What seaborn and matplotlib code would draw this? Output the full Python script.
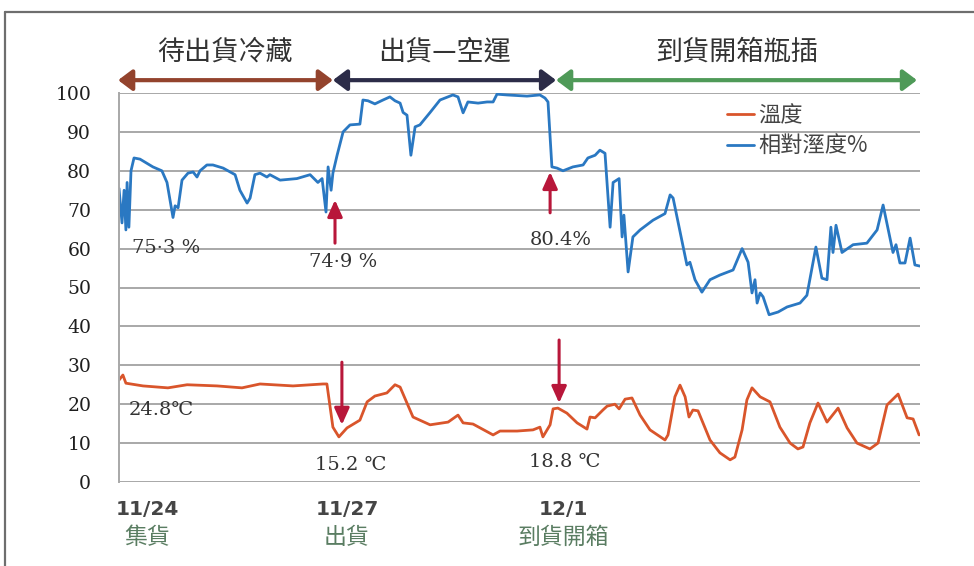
import matplotlib
matplotlib.use("Agg")
import matplotlib.pyplot as plt
from matplotlib.lines import Line2D
from matplotlib.transforms import blended_transform_factory
import seaborn as sns
import pandas as pd

# ---------------- data (time in hours from 11/24) ----------------
rh_hours = [0, 1.0, 1.7, 2.3, 2.7, 3.3, 4.0, 5.0, 7.0, 11.3, 14.3, 16.0, 18.0, 18.7, 19.7,
            21.0, 23.0, 24.7, 26.0, 27.0, 29.3, 31.3, 34.7, 38.7, 40.3, 42.7, 43.7, 45.3,
            47.0, 49.3, 50.3, 53.7, 59.3, 63.7, 66.3, 67.7, 69.0, 69.7, 70.7, 71.3, 72.7,
            74.7, 77.0, 80.3, 81.3, 83.0, 85.3, 88.0, 90.3, 92.0, 93.7, 94.7, 96.0, 97.3,
            98.7, 100.3, 103.7, 107.0, 111.3, 113.0, 114.7, 116.3, 119.7, 122.7, 124.7,
            126.0, 129.3, 136.0, 140.3, 142.0, 143.0, 144.3, 146.0, 148.0, 151.3, 154.7,
            156.3, 158.7, 160.3, 162.0, 163.7, 164.7, 166.7, 167.7, 168.3, 169.7, 171.3,
            173.7, 178.0, 182.0, 183.7, 184.7, 189.3, 190.3, 192.0, 194.3, 197.0, 200.3,
            204.7, 207.7, 209.7, 211.0, 212.0, 212.7, 213.7, 214.7, 216.7, 219.7, 222.7,
            227.0, 229.3, 232.3, 234.3, 236.0, 237.3, 238.0, 239.0, 241.0, 244.7, 249.3,
            252.7, 254.7, 258.0, 259.0, 260.3, 262.0, 263.7, 265.3, 267.0]
rh_values = [75.5, 66.6, 75.0, 64.8, 77.0, 65.5, 80.0, 83.3, 83.0, 81.0, 80.0, 77.0, 68.0,
             71.0, 70.5, 77.6, 79.4, 79.7, 78.4, 80.0, 81.5, 81.5, 80.7, 79.0, 75.0, 71.7,
             73.0, 79.0, 79.4, 78.4, 79.0, 77.6, 78.0, 79.0, 77.0, 78.0, 69.4, 81.0, 75.0,
             79.4, 84.0, 90.0, 91.8, 92.0, 98.2, 98.0, 97.2, 98.2, 99.0, 98.0, 97.4, 95.0,
             94.3, 84.0, 91.3, 91.8, 95.0, 98.2, 99.5, 99.0, 94.9, 97.7, 97.4, 97.7, 97.7,
             99.7, 99.5, 99.2, 99.5, 98.7, 97.7, 81.0, 80.7, 80.0, 81.0, 81.5, 83.3, 84.0,
             85.3, 84.5, 65.5, 77.0, 78.0, 63.0, 68.6, 54.0, 63.0, 64.8, 67.3, 69.0, 73.8,
             73.0, 55.8, 56.5, 52.0, 48.8, 52.0, 53.2, 54.5, 60.0, 56.5, 48.6, 52.0, 46.0,
             48.6, 47.6, 43.0, 43.7, 45.0, 46.0, 48.0, 60.4, 52.4, 52.0, 65.5, 59.0, 66.0,
             59.0, 61.0, 61.4, 64.8, 71.2, 59.0, 61.0, 56.3, 56.3, 62.7, 55.8, 55.5]

temp_hours = [0, 1.3, 2.3, 8.0, 16.3, 22.7, 32.7, 41.0, 47.0, 58.0, 68.0, 69.3, 71.3, 73.3,
              76.0, 80.3, 82.7, 85.3, 89.3, 92.0, 93.7, 98.0, 103.7, 109.7, 113.0, 114.7,
              118.0, 124.7, 127.0, 132.7, 138.0, 140.3, 141.3, 143.7, 144.7, 146.3, 149.3,
              152.7, 156.0, 157.0, 158.7, 161.3, 162.7, 165.3, 166.7, 168.7, 171.0, 173.7,
              177.0, 182.0, 183.0, 185.3, 187.0, 188.7, 190.0, 191.3, 193.0, 197.0, 200.3,
              203.7, 205.3, 207.7, 209.3, 211.0, 213.7, 217.0, 220.3, 223.7, 226.3, 228.0,
              230.3, 233.0, 236.0, 239.7, 242.7, 246.0, 250.3, 253.0, 256.0, 259.7, 262.7,
              264.7, 266.7]
temp_values = [26.2, 27.5, 25.4, 24.7, 24.2, 25.0, 24.7, 24.2, 25.2, 24.7, 25.2, 25.2, 14.1,
               11.6, 13.9, 15.9, 20.6, 22.1, 22.9, 25.0, 24.4, 16.7, 14.7, 15.4, 17.2, 15.2,
               14.9, 12.1, 13.1, 13.1, 13.4, 14.1, 11.6, 14.7, 18.8, 19.0, 17.7, 15.2, 13.6,
               16.7, 16.5, 18.5, 19.5, 20.0, 18.8, 21.3, 21.6, 17.2, 13.4, 10.8, 12.1, 21.9,
               24.9, 21.9, 16.7, 18.5, 18.3, 10.8, 7.5, 5.7, 6.4, 13.4, 21.1, 24.2, 21.9,
               20.6, 14.1, 10.0, 8.5, 9.0, 15.2, 20.3, 15.4, 19.0, 13.9, 10.0, 8.5, 10.0,
               19.8, 22.6, 16.5, 16.2, 12.1]

series_names = ["溫度", "相對溼度%"]
tick_hours = [9.3, 76, 148]
tick_dates = ["11/24", "11/27", "12/1"]
tick_events = ["集貨", "出貨", "到貨開箱"]
y_ticks = list(range(0, 101, 10))

phase_labels = ["待出貨冷藏", "出貨—空運", "到貨開箱瓶插"]
phase_bounds = [(-0.3, 71.3), (71.3, 145.7), (145.7, 266.0)]

value_labels = ["75·3 %", "74·9 %", "80.4%", "24.8℃", "15.2 ℃", "18.8 ℃"]
value_label_pos = [(15.7, 60.2), (74.7, 56.6), (147.3, 62.2), (14.0, 18.5), (77.3, 4.4), (148.7, 5.1)]
red_arrows = [((72.0, 61.4), (72.0, 72.5)), ((143.7, 69.2), (143.7, 79.7)),
              ((74.3, 30.8), (74.3, 14.7)), ((146.7, 36.5), (146.7, 20.3))]

# ---------------- style ----------------
sns.set_theme(style="white")
plt.rcParams["font.family"] = ["Noto Sans CJK TC", "DejaVu Sans"]

temp_color = "#d9552b"
rh_color = "#2a78c2"
phase_colors = ["#93432d", "#2c2c48", "#4f9a58"]
red = "#b8173a"
grid_color = "#a8a8a8"
text_dark = "#333333"
serif = ["DejaVu Serif", "Noto Sans CJK TC", "DejaVu Sans"]

df_t = pd.DataFrame({"hour": temp_hours, "value": temp_values, "series": series_names[0]})
df_h = pd.DataFrame({"hour": rh_hours, "value": rh_values, "series": series_names[1]})
df = pd.concat([df_t, df_h], ignore_index=True)

fig = plt.figure(figsize=(9.74, 5.66), dpi=100)
ax = fig.add_axes([119 / 974, 1 - 482 / 566, 801 / 974, 389 / 566])

sns.lineplot(data=df, x="hour", y="value", hue="series", sort=False,
             palette={series_names[0]: temp_color, series_names[1]: rh_color},
             linewidth=2.0, ax=ax, estimator=None)

ax.set_xlim(0, 267)
ax.set_ylim(0, 100)
ax.set_yticks(y_ticks)
ax.set_yticklabels([str(v) for v in y_ticks], fontfamily=serif, fontsize=13.5,
                   color="#1e1e1e")
ax.tick_params(axis="y", length=0, pad=20)
ax.set_xticks(tick_hours)
ax.set_xticklabels(tick_dates, fontfamily=["DejaVu Sans"], fontsize=14.5,
                   fontweight="bold", color="#454545")
ax.tick_params(axis="x", length=0, pad=13)
ax.set_xlabel("")
ax.set_ylabel("")
ax.yaxis.grid(True, color=grid_color, linewidth=1.4)
ax.set_axisbelow(True)
for s in ["top", "right", "bottom"]:
    ax.spines[s].set_visible(False)
ax.spines["left"].set_color(grid_color)
ax.spines["left"].set_linewidth(1.4)

trans = blended_transform_factory(ax.transData, ax.transAxes)
for h, ev in zip(tick_hours, tick_events):
    ax.text(h, -0.142, ev, transform=trans, ha="center", va="center",
            fontsize=16.5, color="#5a7d62")

# legend
leg = ax.legend(loc="upper left", bbox_to_anchor=(0.745, 1.0), frameon=False,
                fontsize=16, handlelength=1.2, handletextpad=0.2, labelspacing=0.35,
                borderpad=0)
for t in leg.get_texts():
    t.set_color("#444444")

# phase arrows and labels
for (x0, x1), c, lab in zip(phase_bounds, phase_colors, phase_labels):
    ax.annotate("", xy=(x1, 103.3), xytext=(x0, 103.3), xycoords="data",
                arrowprops=dict(arrowstyle="<|-|>,head_length=0.6,head_width=0.45",
                                color=c, lw=3, shrinkA=0, shrinkB=0, mutation_scale=14),
                annotation_clip=False)
    ax.text((x0 + x1) / 2, 110.5, lab, ha="center", va="center", fontsize=19.5,
            color=text_dark, clip_on=False)

# value annotations
for lab, (x, y) in zip(value_labels, value_label_pos):
    ax.text(x, y, lab, ha="center", va="center", fontsize=14, color=text_dark,
            fontfamily=serif)
for (x0, y0), (x1, y1) in red_arrows:
    ax.annotate("", xy=(x1, y1), xytext=(x0, y0),
                arrowprops=dict(arrowstyle="-|>,head_length=1.0,head_width=0.45",
                                color=red, lw=2.2, shrinkA=0, shrinkB=0, mutation_scale=10))

# outer frame
fig.add_artist(Line2D([5 / 974, 5 / 974], [0, 1 - 12 / 566], color="#6e6e6e", lw=1.6))
fig.add_artist(Line2D([5 / 974, 1], [1 - 12 / 566, 1 - 12 / 566], color="#6e6e6e", lw=1.6))

fig.savefig("out.png", dpi=100, facecolor="white")
